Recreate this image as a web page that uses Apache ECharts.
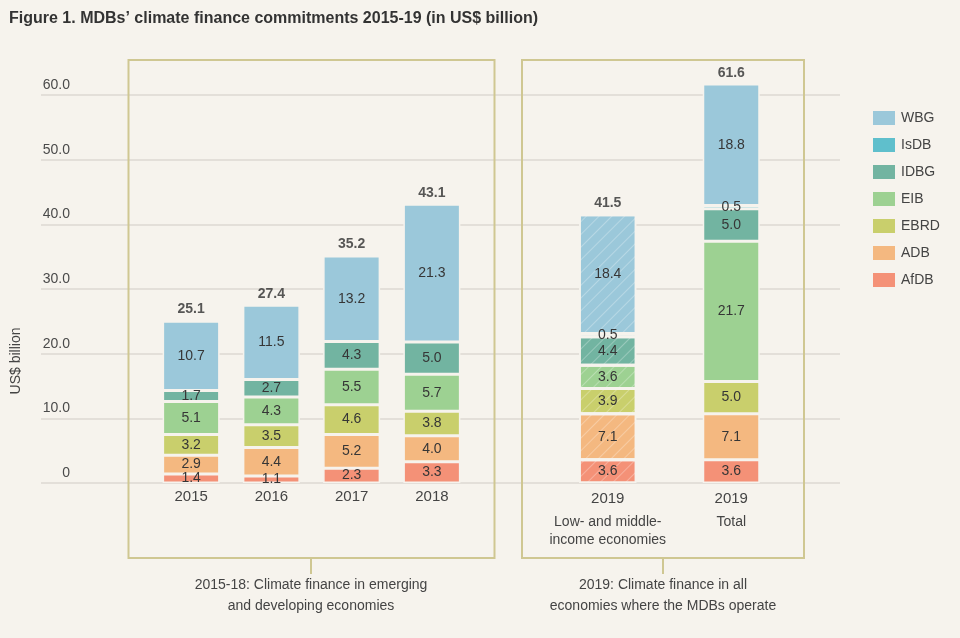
<!DOCTYPE html>
<html>
<head>
<meta charset="utf-8">
<script src="https://cdn.jsdelivr.net/npm/echarts@6/dist/echarts.min.js"></script>
<style>
html,body{margin:0;padding:0;background:#f6f3ed;}
#c{width:960px;height:638px;}
</style>
</head>
<body>
<div id="c"></div>
<script>
// ---- data ----
const categoriesA = ['2015', '2016', '2017', '2018'];
const categoriesB = ['2019', '2019'];
const subLabelsB = ['Low- and middle-\nincome economies', 'Total'];
const orgs = ['WBG', 'IsDB', 'IDBG', 'EIB', 'EBRD', 'ADB', 'AfDB'];
// values: 2015, 2016, 2017, 2018, 2019 LMI, 2019 Total
const afdb = [1.4, 1.1, 2.3, 3.3, 3.6, 3.6];
const adb  = [2.9, 4.4, 5.2, 4.0, 7.1, 7.1];
const ebrd = [3.2, 3.5, 4.6, 3.8, 3.9, 5.0];
const eib  = [5.1, 4.3, 5.5, 5.7, 3.6, 21.7];
const idbg = [1.7, 2.7, 4.3, 5.0, 4.4, 5.0];
const isdb = [null, null, null, null, 0.5, 0.5];
const wbg  = [10.7, 11.5, 13.2, 21.3, 18.4, 18.8];
const totals = [25.1, 27.4, 35.2, 43.1, 41.5, 61.6];
const yTicks = [0, 10, 20, 30, 40, 50, 60];

const colors = {
  WBG: '#9bc8da', IsDB: '#5fbfcc', IDBG: '#72b4a1', EIB: '#9dd192',
  EBRD: '#c9cf6c', ADB: '#f4b880', AfDB: '#f49177'
};
const stackOrder = [['AfDB', afdb], ['ADB', adb], ['EBRD', ebrd], ['EIB', eib], ['IDBG', idbg], ['IsDB', isdb], ['WBG', wbg]];

const BG = '#f6f3ed';
const TXT = '#363636';
const FONT = 'Liberation Sans';
const gridTop = 95, gridBottom = 155;

const hatch = {
  symbol: 'rect', symbolSize: 1,
  dashArrayX: [1, 0], dashArrayY: [1, 8],
  rotation: -Math.PI / 4,
  color: 'rgba(255,255,255,0.28)'
};

const series = [];
[0, 1].forEach(g => {
  const from = g === 0 ? 0 : 4, to = g === 0 ? 4 : 6;
  stackOrder.forEach(([name, arr]) => {
    const data = arr.slice(from, to).map((v, i) => {
      if (g === 1 && i === 0 && v != null) {
        return { value: v, itemStyle: { decal: hatch } };
      }
      return v;
    });
    series.push({
      name: name, type: 'bar', stack: 's' + g,
      xAxisIndex: g, yAxisIndex: g,
      barWidth: 57, clip: false,
      data: data,
      itemStyle: { color: colors[name], borderColor: BG, borderWidth: 1.5 },
      label: {
        show: true, position: 'inside', fontFamily: FONT, fontSize: 14, color: TXT,
        formatter: p => (p.value == null ? '' : Number(p.value).toFixed(1))
      },
      emphasis: { disabled: true }
    });
  });
  series.push({
    name: 'total', type: 'scatter', xAxisIndex: g, yAxisIndex: g,
    data: totals.slice(from, to), symbolSize: 1, clip: false,
    itemStyle: { color: 'rgba(0,0,0,0)' },
    label: {
      show: true, position: 'top', distance: 4, fontFamily: FONT, fontSize: 14,
      fontWeight: 'bold', color: '#2e2e2e',
      formatter: p => Number(p.value).toFixed(1)
    },
    emphasis: { disabled: true }
  });
});

const hiddenY = idx => ({
  type: 'value', gridIndex: idx, min: 0, max: 60, interval: 10,
  axisLine: { show: false }, axisTick: { show: false }, axisLabel: { show: false }, splitLine: { show: false }
});

const option = {
  backgroundColor: BG,
  animation: false,
  textStyle: { fontFamily: FONT },
  title: {
    text: 'Figure 1. MDBs\u2019 climate finance commitments 2015-19 (in US$ billion)',
    left: 4, top: 6,
    textStyle: { fontFamily: FONT, fontSize: 16, fontWeight: 'bold', color: '#333' }
  },
  legend: {
    data: orgs, orient: 'vertical', left: 866, top: 104,
    itemWidth: 24, itemHeight: 16, itemGap: 9, icon: 'rect',
    textStyle: { fontFamily: FONT, fontSize: 14, color: '#444' },
    selectedMode: false
  },
  grid: [
    { left: 151, width: 321, top: gridTop, bottom: gridBottom },
    { left: 546, width: 247, top: gridTop, bottom: gridBottom },
    { left: 41, right: 120, top: gridTop, bottom: gridBottom }
  ],
  xAxis: [
    { type: 'category', gridIndex: 0, data: categoriesA,
      axisLine: { show: false }, axisTick: { show: false },
      axisLabel: { fontFamily: FONT, fontSize: 15, color: '#444', margin: 6 } },
    { type: 'category', gridIndex: 1, data: categoriesB,
      axisLine: { show: false }, axisTick: { show: false },
      axisLabel: {
        margin: 6, interval: 0,
        formatter: (v, i) => '{a|' + v + '}\n' + subLabelsB[i].split('\n').map(s => '{b|' + s + '}').join('\n'),
        rich: {
          a: { fontFamily: FONT, fontSize: 15, color: '#444', lineHeight: 20 },
          b: { fontFamily: FONT, fontSize: 14, color: '#444', lineHeight: 18, padding: [8, 0, 0, 0] }
        }
      } },
    { type: 'value', gridIndex: 2, show: false }
  ],
  yAxis: [
    hiddenY(0), hiddenY(1),
    { type: 'value', gridIndex: 2, min: 0, max: 60, interval: 10,
      axisLine: { show: false }, axisTick: { show: false },
      splitLine: { lineStyle: { color: '#dcd9d2', width: 1.5 } },
      axisLabel: {
        inside: true, margin: 29, align: 'right', verticalAlign: 'bottom',
        padding: [0, 0, 3, 0],
        fontFamily: FONT, fontSize: 14, color: '#4a4a4a',
        formatter: v => (v === 0 ? '0' : v.toFixed(1))
      } }
  ],
  graphic: [
    { type: 'rect', z: 1, silent: true, shape: { x: 128.5, y: 60, width: 366, height: 498 },
      style: { fill: 'none', stroke: '#cfc792', lineWidth: 2 } },
    { type: 'rect', z: 1, silent: true, shape: { x: 522, y: 60, width: 282, height: 498 },
      style: { fill: 'none', stroke: '#cfc792', lineWidth: 2 } },
    { type: 'line', z: 1, silent: true, shape: { x1: 311, y1: 559, x2: 311, y2: 574 },
      style: { stroke: '#cfc792', lineWidth: 2 } },
    { type: 'line', z: 1, silent: true, shape: { x1: 663, y1: 559, x2: 663, y2: 574 },
      style: { stroke: '#cfc792', lineWidth: 2 } },
    { type: 'text', z: 1, silent: true, x: 311, y: 596,
      style: { text: '2015-18: Climate finance in emerging\nand developing economies', textAlign: 'center', textVerticalAlign: 'middle',
        font: '14px "Liberation Sans"', fill: '#444', lineHeight: 21 } },
    { type: 'text', z: 1, silent: true, x: 663, y: 596,
      style: { text: '2019: Climate finance in all\neconomies where the MDBs operate', textAlign: 'center', textVerticalAlign: 'middle',
        font: '14px "Liberation Sans"', fill: '#444', lineHeight: 21 } },
    { type: 'text', z: 1, silent: true, x: 16, y: 361, rotation: Math.PI / 2,
      style: { text: 'US$ billion', textAlign: 'center', textVerticalAlign: 'middle',
        font: '14px "Liberation Sans"', fill: '#444' } }
  ],
  series: series
};

const chart = echarts.init(document.getElementById('c'), null, { renderer: 'canvas' });
chart.setOption(option);
</script>
</body>
</html>
